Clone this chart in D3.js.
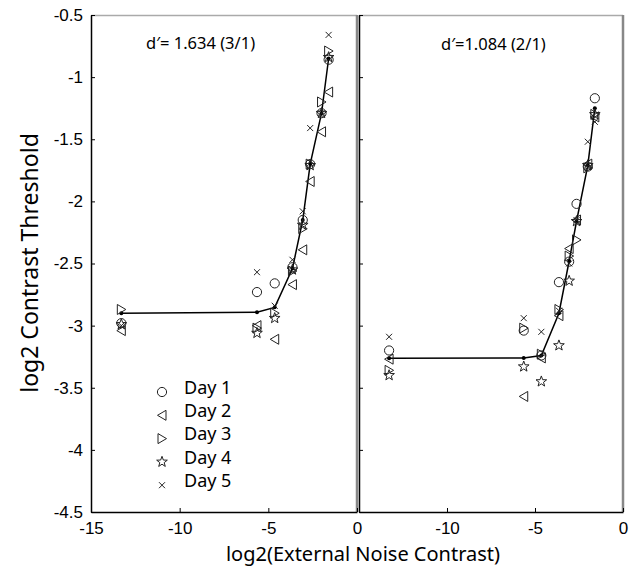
<!DOCTYPE html>
<html>
<head>
<meta charset="utf-8">
<script src="https://cdn.jsdelivr.net/npm/d3@7"></script>
<style>
  body { margin: 0; background: #fff; }
  .tick text { font-family: "Liberation Sans", Arial, sans-serif; }
  .lbl { font-family: "Noto Sans", sans-serif; fill: #000; }
</style>
</head>
<body>
<div id="chart"></div>
<script>
// noise levels (log2 external noise contrast), zero-noise plotted at -13.29
var noiseLevels = [-13.29, -5.64, -4.64, -3.64, -3.06, -2.64, -2.0, -1.6];
var xTicksLeft = [-15, -10, -5, 0];
var xTicksRight = [-10, -5, 0];
var yTicks = [-4.5, -4, -3.5, -3, -2.5, -2, -1.5, -1, -0.5];
var days = ["Day 1", "Day 2", "Day 3", "Day 4", "Day 5"];
var symbols = ["circle", "triLeft", "triRight", "star", "cross"];

// left panel, d'=1.634 (3/1)
var leftFit  = [-2.90, -2.893, -2.853, -2.54, -2.15, -1.70, -1.29, -0.85];
var leftDay1 = [-2.98, -2.73, -2.66, -2.53, -2.15, -1.70, -1.29, -0.86];
var leftDay2 = [-3.04, -3.00, -3.11, -2.67, -2.39, -1.84, -1.44, -1.12];
var leftDay3 = [-2.87, -3.02, -2.90, -2.56, -2.22, -1.70, -1.20, -0.79];
var leftDay4 = [-2.99, -3.06, -2.94, -2.55, -2.19, -1.71, -1.29, -0.84];
var leftDay5 = [-3.00, -2.57, -2.84, -2.47, -2.08, -1.41, -1.29, -0.66];

// right panel, d'=1.084 (2/1)
var rightFit  = [-3.263, -3.26, -3.24, -2.90, -2.48, -2.16, -1.71, -1.25];
var rightDay1 = [-3.20, -3.04, -3.24, -2.65, -2.485, -2.02, -1.72, -1.17];
var rightDay2 = [-3.27, -3.57, -3.26, -2.92, -2.38, -2.15, -1.70, -1.32];
var rightDay3 = [-3.36, -3.02, -3.23, -2.87, -2.44, -2.31, -1.73, -1.30];
var rightDay4 = [-3.40, -3.33, -3.45, -3.16, -2.64, -2.16, -1.71, -1.30];
var rightDay5 = [-3.09, -2.94, -3.05, -2.88, -2.50, -2.15, -1.52, -1.36];

var width = 635, height = 574;

var svg = d3.select('#chart')
  .append('svg')
    .attr('width', width)
    .attr('height', height);

var y = d3.scaleLinear().domain([-4.5, -0.5]).range([512, 15]);

// plain hyphen labels like the original figure
var tickFmt = function(d) { return String(d); };

var panels = [
  {x: d3.scaleLinear().domain([-15, 0]).range([91, 357]), ticks: xTicksLeft, fit: leftFit,
   days: [leftDay1, leftDay2, leftDay3, leftDay4, leftDay5], label: "d\u2032= 1.634 (3/1)", lx: 146, ly: 49, yLabels: true},
  {x: d3.scaleLinear().domain([-15, 0]).range([359, 623]), ticks: xTicksRight, fit: rightFit,
   days: [rightDay1, rightDay2, rightDay3, rightDay4, rightDay5], label: "d\u2032=1.084 (2/1)", lx: 441, ly: 50, yLabels: false}
];

function symbolPath(type) {
  if (type == "circle") return d3.symbol().type(d3.symbolCircle).size(Math.PI * 4.6 * 4.6)();
  if (type == "triLeft") return "M-4.5,0L4,-5L4,5Z";
  if (type == "triRight") return "M4.5,0L-4,-5L-4,5Z";
  if (type == "cross") return "M-3,-3L3,3M-3,3L3,-3";
  // five pointed star
  var p = [];
  for (var i = 0; i < 10; i++) {
    var r = i % 2 == 0 ? 5.6 : 2.3;
    var a = -Math.PI / 2 + i * Math.PI / 5;
    p.push([r * Math.cos(a), r * Math.sin(a)]);
  }
  return "M" + p.map(function(d) { return d[0].toFixed(2) + "," + d[1].toFixed(2); }).join("L") + "Z";
}

panels.forEach(function(P) {
  var x = P.x;
  var x0 = x.range()[0], x1 = x.range()[1];

  // gray top and right border
  svg.append('line').attr('x1', x0).attr('x2', x1).attr('y1', 15.5).attr('y2', 15.5)
    .attr('stroke', '#aaa').attr('stroke-width', 1.5);
  svg.append('line').attr('x1', x1).attr('x2', x1).attr('y1', 15).attr('y2', 512)
    .attr('stroke', '#888').attr('stroke-width', 2.5);

  // bottom axis
  var xAxis = svg.append('g')
    .attr('transform', 'translate(0,512)')
    .call(d3.axisBottom(x).tickValues(P.ticks).tickSizeInner(-4).tickSizeOuter(0).tickPadding(10).tickFormat(tickFmt));
  xAxis.select('.domain').attr('stroke', '#000').attr('stroke-width', 1.5);
  xAxis.selectAll('.tick line').attr('stroke', '#000');
  xAxis.selectAll('.tick text').attr('font-size', 17).attr('fill', '#000');

  // left axis
  var yAxis = svg.append('g')
    .attr('transform', 'translate(' + x0 + ',0)')
    .call(d3.axisLeft(y).tickValues(yTicks).tickSizeInner(-4).tickSizeOuter(0).tickPadding(8)
      .tickFormat(P.yLabels ? tickFmt : function() { return ''; }));
  yAxis.select('.domain').attr('stroke', '#000').attr('stroke-width', 1.5);
  yAxis.selectAll('.tick line').attr('stroke', '#000');
  yAxis.selectAll('.tick text').attr('font-size', 17).attr('fill', '#000');

  // fitted model line
  var line = d3.line()
    .x(function(d, i) { return x(noiseLevels[i]); })
    .y(function(d) { return y(d); });

  svg.append('path')
    .datum(P.fit)
    .attr('d', line)
    .attr('fill', 'none')
    .attr('stroke', '#000')
    .attr('stroke-width', 1.5);

  svg.selectAll(null)
    .data(P.fit)
    .enter()
    .append('circle')
    .attr('cx', function(d, i) { return x(noiseLevels[i]); })
    .attr('cy', function(d) { return y(d); })
    .attr('r', 2)
    .attr('fill', '#000');

  // day markers
  P.days.forEach(function(vals, k) {
    svg.selectAll(null)
      .data(vals)
      .enter()
      .append('path')
      .attr('d', symbolPath(symbols[k]))
      .attr('transform', function(d, i) { return 'translate(' + x(noiseLevels[i]) + ',' + y(d) + ')'; })
      .attr('fill', 'none')
      .attr('stroke', '#222')
      .attr('stroke-width', 1);
  });

  svg.append('text')
    .attr('class', 'lbl')
    .attr('x', P.lx)
    .attr('y', P.ly)
    .attr('font-size', 16.5)
    .text(P.label);
});

// legend
var legend = svg.append('g').attr('transform', 'translate(162,392)');
days.forEach(function(d, k) {
  legend.append('path')
    .attr('d', symbolPath(symbols[k]))
    .attr('transform', 'translate(0,' + (k * 23.3) + ')')
    .attr('fill', 'none')
    .attr('stroke', '#222')
    .attr('stroke-width', 1);
  legend.append('text')
    .attr('class', 'lbl')
    .attr('x', 22)
    .attr('y', k * 23.3)
    .attr('dy', '0.1em')
    .attr('font-size', 18)
    .text(d);
});

// axis titles
svg.append('text')
  .attr('class', 'lbl')
  .attr('x', 363)
  .attr('y', 561)
  .attr('text-anchor', 'middle')
  .attr('font-size', 20)
  .text('log2(External Noise Contrast)');

svg.append('text')
  .attr('class', 'lbl')
  .attr('transform', 'translate(38,263) rotate(-90)')
  .attr('text-anchor', 'middle')
  .attr('font-size', 23)
  .text('log2 Contrast Threshold');
</script>
</body>
</html>
